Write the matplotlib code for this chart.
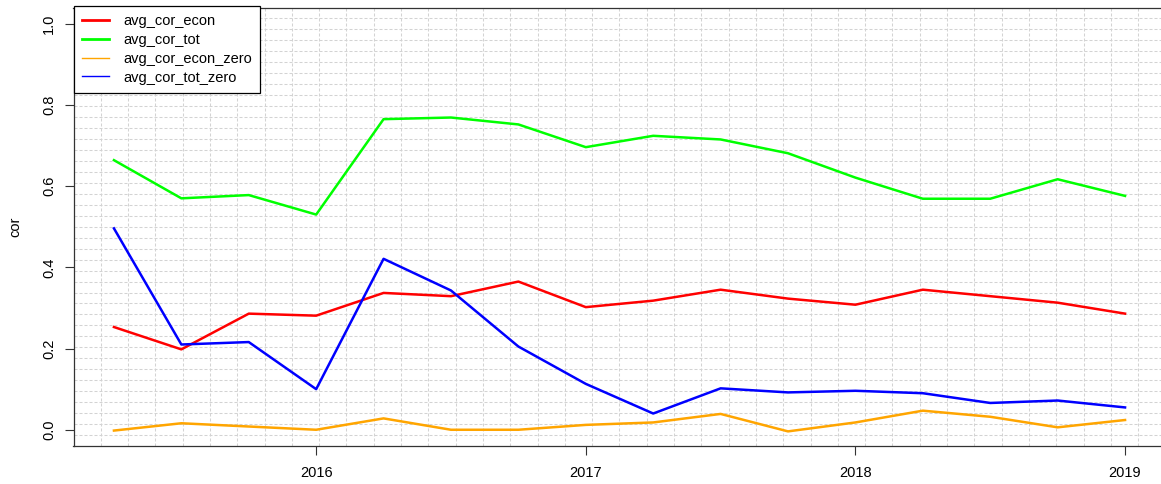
import numpy as np
import matplotlib
matplotlib.use("Agg")
import matplotlib.pyplot as plt
from matplotlib.lines import Line2D

plt.rcParams['font.family'] = ['Liberation Sans', 'DejaVu Sans']

# quarterly dates (decimal years)
dates = [2015.25, 2015.5, 2015.75, 2016.0, 2016.25, 2016.5, 2016.75, 2017.0,
         2017.25, 2017.5, 2017.75, 2018.0, 2018.25, 2018.5, 2018.75, 2019.0]

avg_cor_econ = [0.253, 0.198, 0.286, 0.281, 0.337, 0.329, 0.365, 0.302,
                0.318, 0.345, 0.323, 0.308, 0.345, 0.329, 0.313, 0.286]
avg_cor_tot = [0.664, 0.570, 0.578, 0.530, 0.765, 0.769, 0.752, 0.696,
               0.724, 0.715, 0.681, 0.621, 0.569, 0.569, 0.617, 0.576]
avg_cor_econ_zero = [-0.002, 0.016, 0.008, 0.000, 0.028, 0.000, 0.000, 0.012,
                     0.018, 0.039, -0.004, 0.018, 0.047, 0.032, 0.006, 0.024]
avg_cor_tot_zero = [0.496, 0.210, 0.216, 0.100, 0.421, 0.343, 0.205, 0.113,
                    0.040, 0.102, 0.092, 0.096, 0.090, 0.066, 0.072, 0.055]

series_names = ["avg_cor_econ", "avg_cor_tot", "avg_cor_econ_zero", "avg_cor_tot_zero"]
series_vals = [avg_cor_econ, avg_cor_tot, avg_cor_econ_zero, avg_cor_tot_zero]
colors = ["#FF0000", "#00FF00", "#FFA500", "#0000FF"]
legend_lw = [2.0, 2.0, 1.0, 1.0]

xticks = [2016, 2017, 2018, 2019]
yticks = [0.0, 0.2, 0.4, 0.6, 0.8, 1.0]

W, H = 1161, 484
fig = plt.figure(figsize=(W / 100, H / 100), dpi=100)
left, right, top, bottom = 73.5, 1165.5, 7.5, 446
ax = fig.add_axes([left / W, (H - bottom) / H, (right - left) / W, (bottom - top) / H])

xr = dates[-1] - dates[0]
xlim = (dates[0] - 0.04 * xr, dates[-1] + 0.04 * xr)
ylim = (-0.04, 1.04)
ax.set_xlim(*xlim)
ax.set_ylim(*ylim)

# grid: 40 x 40 equal divisions (R grid style)
gstyle = dict(color="#D3D3D3", lw=0.75, linestyle=(0, (2.9, 1.9)), zorder=1)
for gx in np.linspace(xlim[0], xlim[1], 41)[1:-1]:
    ax.axvline(gx, **gstyle)
for gy in np.linspace(ylim[0], ylim[1], 41)[1:-1]:
    ax.axhline(gy, **gstyle)

for name, vals, c in zip(series_names, series_vals, colors):
    ax.plot(dates, vals, color=c, lw=1.8, zorder=3, label=name)

ax.set_xticks(xticks)
ax.set_xticklabels([str(x) for x in xticks])
ax.set_yticks(yticks)
ax.set_yticklabels([f"{y:.1f}" for y in yticks], rotation=90, va="center")
ax.tick_params(axis="both", direction="out", length=6.5, width=0.8, color="#333333",
               labelsize=10.5, pad=8)
ax.tick_params(axis="y", pad=6)
for s in ax.spines.values():
    s.set_color("#333333")
    s.set_linewidth(0.9)
ax.spines["right"].set_visible(False)

ax.set_ylabel("cor", fontsize=10.5, labelpad=14)

handles = [Line2D([0], [0], color=c, lw=lw) for c, lw in zip(colors, legend_lw)]
leg = ax.legend(handles, series_names, loc="upper left", bbox_to_anchor=(0, 1.0035),
                borderaxespad=0, fancybox=False, framealpha=1, edgecolor="black",
                fontsize=10.5, handlelength=1.9, handletextpad=0.95,
                labelspacing=0.33, borderpad=0.56)
leg.get_frame().set_linewidth(0.9)
leg.set_zorder(5)

fig.savefig("out.png", dpi=100, facecolor="white")
